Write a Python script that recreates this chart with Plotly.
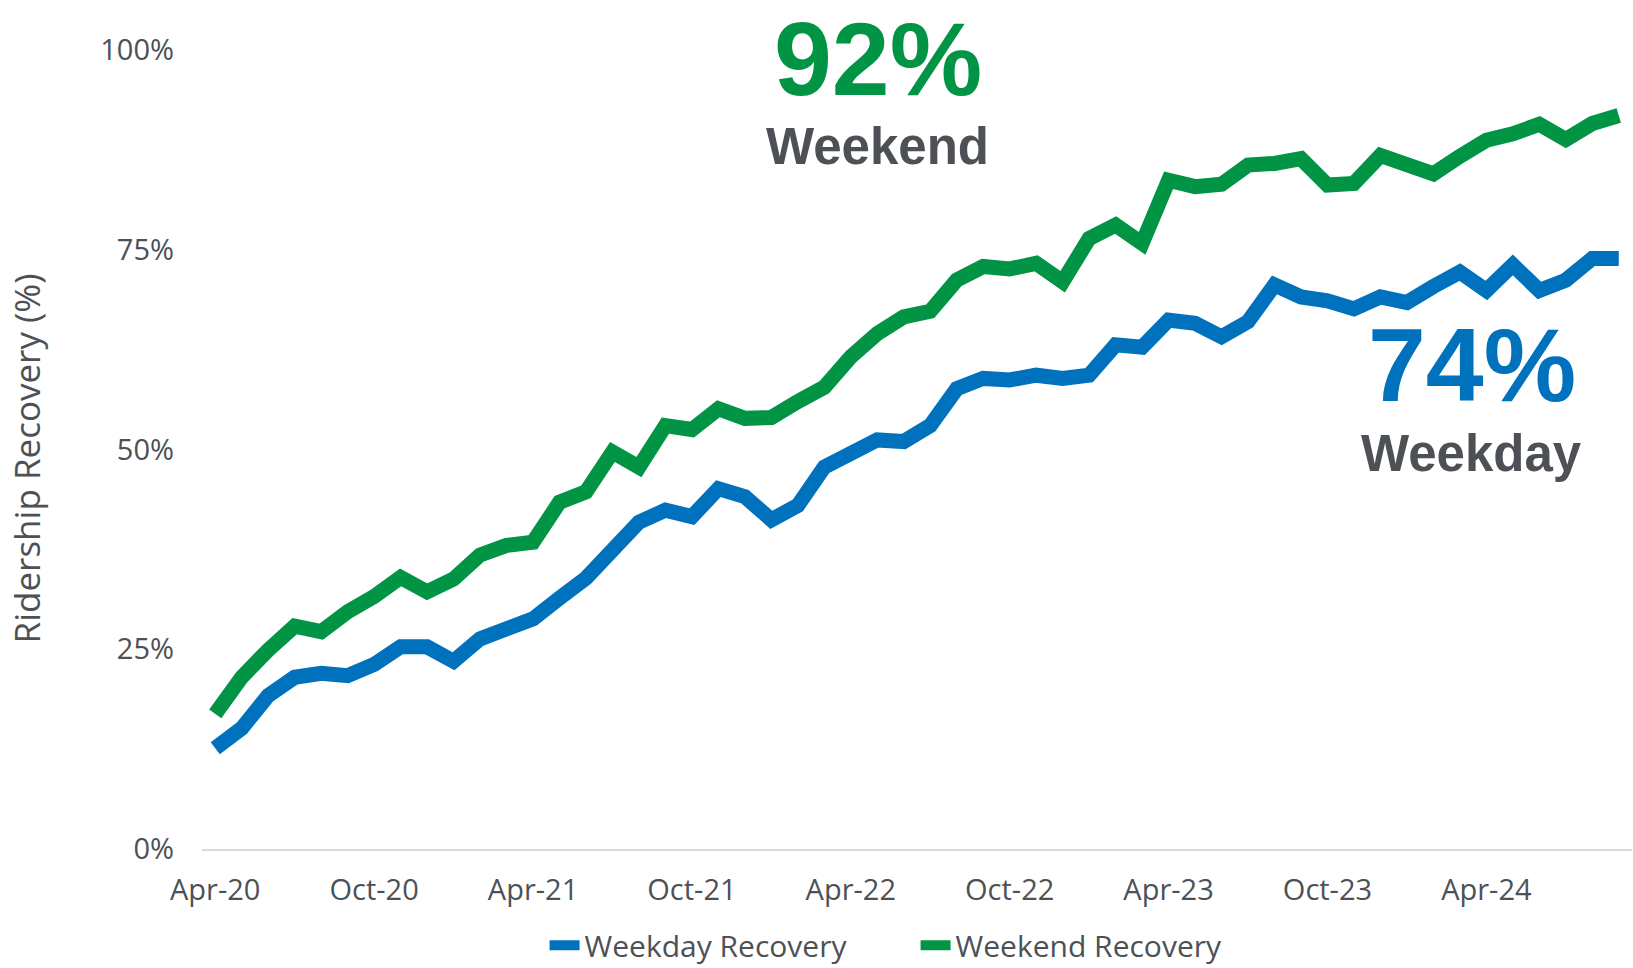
import pandas as pd
import plotly.graph_objects as go

months = [d.strftime("%b-%y") for d in pd.date_range("2020-04-01", "2024-09-01", freq="MS")]

weekday = [12.6, 15.1, 19.2, 21.5, 22.0, 21.7, 23.1, 25.3, 25.3, 23.5,
           26.3, 27.8, 28.8, 31.4, 33.9, 37.4, 40.9, 42.4, 41.6, 45.1,
           44.1, 41.2, 43.0, 47.8, 49.7, 51.2, 51.0, 53.0, 57.6, 58.9,
           58.7, 59.3, 58.9, 59.3, 63.1, 62.8, 66.2, 65.8, 64.1, 66.0,
           70.6, 69.1, 68.6, 67.6, 69.1, 68.4, 70.4, 72.2, 69.9, 73.1,
           69.9, 71.2, 73.9, 73.9]

weekend = [16.9, 21.5, 24.9, 27.9, 27.2, 29.7, 31.6, 34.0, 32.2, 33.8,
           36.8, 38.0, 38.4, 43.4, 44.7, 49.7, 47.8, 53.0, 52.5, 55.1,
           53.9, 54.0, 56.0, 57.8, 61.6, 64.5, 66.6, 67.3, 71.2, 72.9,
           72.6, 73.3, 71.0, 76.4, 78.1, 75.8, 83.7, 82.9, 83.2, 85.6,
           85.8, 86.4, 83.1, 83.3, 86.8, 85.5, 84.5, 86.7, 88.7, 89.5,
           90.7, 88.8, 90.8, 91.8]

tick_months = months[::6]
y_ticks = [0, 25, 50, 75, 100]
y_ticktext = ["0%", "25%", "50%", "75%", "100%"]
y_title = "Ridership Recovery (%)"

BLUE = "#0071BC"
GREEN = "#009444"
GRAY = "#4D5156"
FONT = "Open Sans"
HEAD_FONT = "Liberation Sans"

fig = go.Figure()
fig.add_trace(go.Scatter(x=months, y=weekday, mode="lines", name="Weekday Recovery",
                         line=dict(color=BLUE, width=15, shape="linear")))
fig.add_trace(go.Scatter(x=months, y=weekend, mode="lines", name="Weekend Recovery",
                         line=dict(color=GREEN, width=15, shape="linear")))

# Headline annotations
fig.add_annotation(x=0.4727, y=0.9888, xref="paper", yref="paper",
                   text=f"<b>{weekend[-1]:.0f}%</b>", showarrow=False,
                   font=dict(family=HEAD_FONT, size=104, color=GREEN),
                   xanchor="center", yanchor="middle")
fig.add_annotation(x=0.4727, y=0.8786, xref="paper", yref="paper",
                   text="<b>Weekend</b>", showarrow=False,
                   font=dict(family=HEAD_FONT, size=51, color=GRAY),
                   xanchor="center", yanchor="middle")
fig.add_annotation(x=0.888, y=0.6058, xref="paper", yref="paper",
                   text=f"<b>{weekday[-1]:.0f}%</b>", showarrow=False,
                   font=dict(family=HEAD_FONT, size=104, color=BLUE),
                   xanchor="center", yanchor="middle")
fig.add_annotation(x=0.888, y=0.4956, xref="paper", yref="paper",
                   text="<b>Weekday</b>", showarrow=False,
                   font=dict(family=HEAD_FONT, size=51, color=GRAY),
                   xanchor="center", yanchor="middle")

# Y-axis title
fig.add_annotation(x=-0.123, y=0.489, xref="paper", yref="paper",
                   text=y_title, showarrow=False, textangle=-90,
                   font=dict(family=FONT, size=35, color=GRAY),
                   xanchor="center", yanchor="middle")

fig.update_layout(
    width=1633, height=968,
    margin=dict(l=202, r=1, t=50, b=119, autoexpand=False),
    paper_bgcolor="white", plot_bgcolor="white",
    font=dict(family=FONT, color=GRAY, size=29),
    showlegend=True,
    legend=dict(orientation="h", x=0.499, xanchor="center", y=-0.1205, yanchor="middle",
                font=dict(family=FONT, size=30, color=GRAY),
                entrywidth=326, entrywidthmode="pixels", tracegroupgap=0),
)
fig.update_xaxes(type="category", categoryorder="array", categoryarray=months,
                 range=[-0.5, len(months) - 0.5], automargin=False,
                 tickvals=tick_months, ticktext=tick_months,
                 showgrid=False, zeroline=False, showline=True, linecolor="#D9D9D9", linewidth=2,
                 ticks="", tickfont=dict(family=FONT, size=29, color=GRAY), ticklabelstandoff=14)
fig.update_yaxes(range=[0, 100], tickvals=y_ticks, ticktext=y_ticktext, automargin=False,
                 showgrid=False, zeroline=False, showline=False, ticks="",
                 tickfont=dict(family=FONT, size=29, color=GRAY), ticklabelstandoff=27)

fig.write_html("out.html", config={"displayModeBar": False},
               post_script="document.body.style.margin='0px';")
